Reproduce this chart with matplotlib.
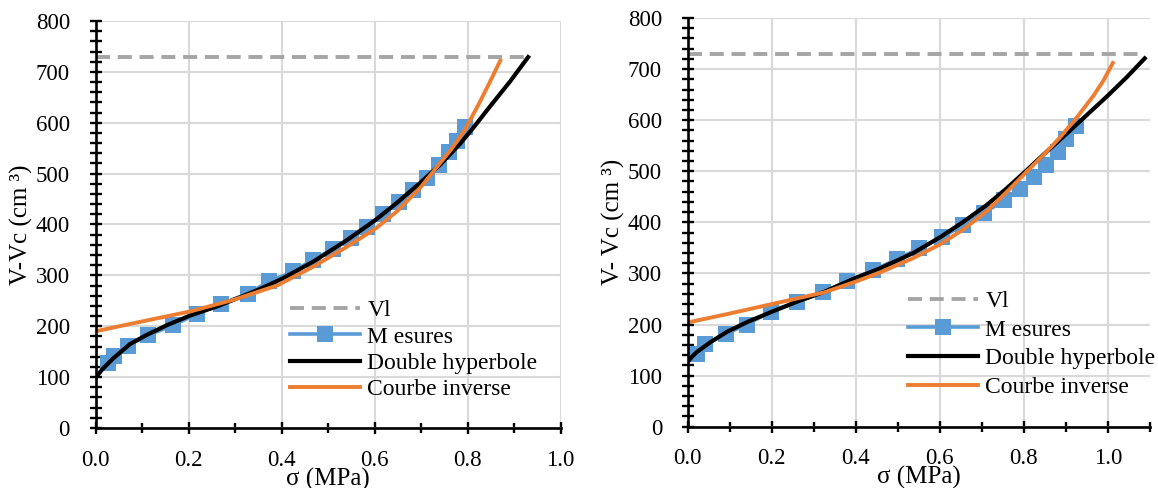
import numpy as np
import matplotlib
matplotlib.use('Agg')
import matplotlib.pyplot as plt
from matplotlib.ticker import MultipleLocator, FormatStrFormatter

plt.rcParams['font.family'] = ['Liberation Serif', 'DejaVu Serif']

VL = 729

# ---------- panneau gauche ----------
mes_x_l = [0.026, 0.040, 0.069, 0.112, 0.167, 0.219, 0.270, 0.327, 0.373, 0.425, 0.468,
           0.510, 0.550, 0.583, 0.618, 0.652, 0.682, 0.712, 0.738, 0.760, 0.777, 0.794]
mes_y_l = [128, 142, 162, 182, 202, 225, 244, 264, 288, 308, 331,
           351, 374, 396, 420, 444, 467, 492, 516, 542, 565, 592]

dh_x_l = [0.000, 0.015, 0.038, 0.074, 0.110, 0.153, 0.203, 0.261, 0.305, 0.348, 0.400,
          0.468, 0.540, 0.602, 0.647, 0.697, 0.740, 0.783, 0.812, 0.848, 0.891, 0.930]
dh_y_l = [99, 116, 137, 165, 183, 202, 221, 239, 255, 271, 293,
          327, 369, 409, 442, 481, 517, 558, 590, 632, 681, 729]

ci_x_l = [0.000, 0.082, 0.203, 0.297, 0.390, 0.426, 0.468, 0.540, 0.602, 0.647, 0.697,
          0.740, 0.765, 0.794, 0.824, 0.846, 0.870]
ci_y_l = [190, 206, 229, 252, 280, 297, 317, 356, 392, 425, 471,
          520, 548, 586, 637, 677, 722]

# ---------- panneau droit ----------
mes_x_r = [0.023, 0.041, 0.090, 0.140, 0.198, 0.260, 0.322, 0.379, 0.441, 0.498, 0.551,
           0.606, 0.656, 0.706, 0.754, 0.791, 0.825, 0.854, 0.882, 0.901, 0.925]
mes_y_r = [142, 161, 181, 200, 225, 244, 263, 285, 306, 328, 349,
           371, 395, 419, 443, 466, 489, 513, 538, 563, 589]

dh_x_r = [0.000, 0.010, 0.023, 0.055, 0.094, 0.142, 0.200, 0.261, 0.325, 0.396, 0.458,
          0.537, 0.603, 0.656, 0.712, 0.760, 0.803, 0.850, 0.900, 0.950, 1.000, 1.045, 1.088]
dh_y_r = [127, 137, 147, 166, 186, 205, 225, 245, 264, 290, 310,
          340, 372, 401, 434, 467, 499, 535, 572, 610, 648, 684, 721]

ci_x_r = [0.000, 0.086, 0.200, 0.325, 0.400, 0.458, 0.537, 0.603, 0.656, 0.712, 0.760,
          0.803, 0.847, 0.886, 0.926, 0.966, 0.990, 1.012]
ci_y_r = [204, 219, 240, 263, 284, 302, 330, 358, 386, 422, 460,
          496, 532, 566, 605, 648, 678, 712]

labels = ['Vl', 'M esures', 'Double hyperbole', 'Courbe inverse']

BLUE = '#5B9BD5'
ORANGE = '#ED7D31'
GREY = '#A5A5A5'


def panel(ax, mx, my, dx, dy, cx, cy, xmax, ylab, leg_anchor, lspace):
    ax.plot([0, dx[-1]], [VL, VL], color=GREY, lw=2.8, ls=(0, (3.6, 2.0)), label=labels[0])
    ax.plot(mx, my, color=BLUE, lw=2.6, marker='s', ms=11, mew=0, label=labels[1])
    ax.plot(dx, dy, color='black', lw=3.0, label=labels[2])
    ax.plot(cx, cy, color=ORANGE, lw=2.8, label=labels[3])

    ax.set_xlim(0, xmax)
    ax.set_ylim(0, 800)
    ax.xaxis.set_major_locator(MultipleLocator(0.2))
    ax.xaxis.set_minor_locator(MultipleLocator(0.1))
    ax.xaxis.set_major_formatter(FormatStrFormatter('%.1f'))
    ax.yaxis.set_major_locator(MultipleLocator(100))
    ax.yaxis.set_minor_locator(MultipleLocator(20))

    ax.grid(which='major', color='#D9D9D9', lw=1.5)
    ax.set_axisbelow(True)
    for s in ['top', 'right']:
        ax.spines[s].set_visible(False)
    for s in ['left', 'bottom']:
        ax.spines[s].set_linewidth(1.9)

    ax.tick_params(axis='both', which='major', direction='inout', length=9, width=1.7,
                   labelsize=16.5)
    ax.tick_params(axis='y', which='minor', direction='inout', length=8.5, width=1.7)
    ax.tick_params(axis='x', which='minor', direction='inout', length=6.5, width=1.7)
    ax.tick_params(axis='y', which='major', pad=14)
    ax.tick_params(axis='x', which='major', pad=11)

    ax.set_ylabel(ylab, fontsize=18)
    ax.set_xlabel('σ (MPa)', fontsize=18)
    ax.yaxis.set_label_coords(-0.135, 0.5)
    ax.xaxis.set_label_coords(0.5, -0.097)

    ax.legend(loc='upper left', bbox_to_anchor=leg_anchor, frameon=False, fontsize=17,
              handlelength=2.97, handletextpad=0.3, labelspacing=lspace, borderpad=0,
              borderaxespad=0)


fig = plt.figure(figsize=(11.58, 4.88), dpi=100)
ax1 = fig.add_axes([0.0826, 0.123, 0.4016, 0.834])
ax2 = fig.add_axes([0.5939, 0.1256, 0.399, 0.8375])

panel(ax1, mes_x_l, mes_y_l, dh_x_l, dh_y_l, ci_x_l, ci_y_l, 1.0,
      'V-Vc (cm ³)', (0.418, 0.315), 0.2)
panel(ax2, mes_x_r, mes_y_r, dh_x_r, dh_y_r, ci_x_r, ci_y_r, 1.1,
      'V- Vc (cm ³)', (0.477, 0.333), 0.3)

fig.savefig('out.png', dpi=100)
